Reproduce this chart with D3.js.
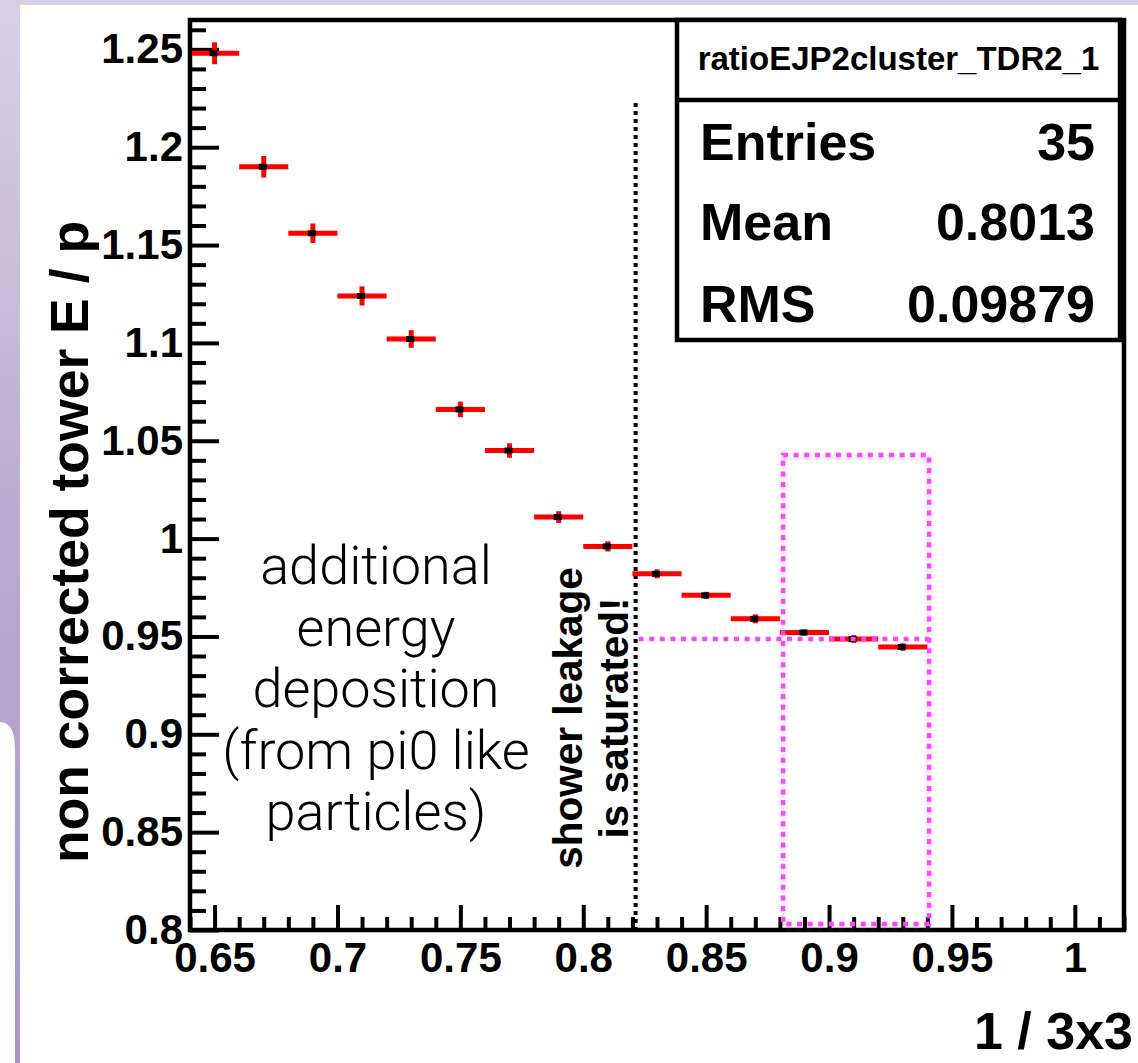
<!DOCTYPE html>
<html>
<head>
<meta charset="utf-8">
<script src="https://cdn.jsdelivr.net/npm/d3@7"></script>
<style>
  html, body { margin: 0; padding: 0; background: #ffffff; }
  svg { display: block; }
  .bold { font-family: "Liberation Sans", Arial, Helvetica, sans-serif; font-weight: bold; }
  .light { font-family: "Helvetica Neue", Roboto, "Open Sans", sans-serif; font-weight: 300; }
</style>
</head>
<body>
<svg id="chart" width="1138" height="1063"></svg>
<script>
// Histogram ratioEJP2cluster_TDR2_1: E/p versus 1/3x3, 0.02-wide bins
const binCenters = [0.65, 0.67, 0.69, 0.71, 0.73, 0.75, 0.77, 0.79, 0.81, 0.83, 0.85, 0.87, 0.89, 0.91, 0.93];
const ratioValues = [1.248, 1.190, 1.156, 1.124, 1.102, 1.066, 1.045, 1.011, 0.996, 0.982, 0.971, 0.959, 0.952, 0.9487, 0.9446];
const ratioErrors = [0.0056, 0.0055, 0.0050, 0.0049, 0.0045, 0.0040, 0.0037, 0.0030, 0.0026, 0.0023, 0.0018, 0.0023, 0.0015, 0.0020, 0.0019];
const binWidth = 0.02;

// Axis ticks and labels
const xMajorTicks = [0.65, 0.7, 0.75, 0.8, 0.85, 0.9, 0.95, 1.0];
const xTickLabels = ["0.65", "0.7", "0.75", "0.8", "0.85", "0.9", "0.95", "1"];
const yMajorTicks = [0.8, 0.85, 0.9, 0.95, 1.0, 1.05, 1.1, 1.15, 1.2, 1.25];
const yTickLabels = ["0.8", "0.85", "0.9", "0.95", "1", "1.05", "1.1", "1.15", "1.2", "1.25"];

// Statistics box
const statsTitle = "ratioEJP2cluster_TDR2_1";
const statsNames = ["Entries", "Mean", "RMS"];
const statsValues = ["35", "0.8013", "0.09879"];

// Annotations
const leftNoteLines = ["additional", "energy", "deposition", "(from pi0 like", "particles)"];
const saturationLines = ["shower leakage", "is saturated!"];
const saturationX = 0.8213;
const saturationTop = 1.2226;
const plateauLevel = 0.9487;
const boxX = [0.8813, 0.9407];
const boxY = [0.8031, 1.0427];

const W = 1138, H = 1063;
const frame = { left: 190, right: 1124, top: 20, bottom: 930 };

const svg = d3.select("#chart");
const defs = svg.append("defs");

// slide background decorations
const grad = defs.append("linearGradient").attr("id", "sideGrad")
  .attr("x1", 0).attr("y1", 0).attr("x2", 0).attr("y2", 1);
grad.append("stop").attr("offset", "0%").attr("stop-color", "#d8d1e5");
grad.append("stop").attr("offset", "50%").attr("stop-color", "#b9abd2");
grad.append("stop").attr("offset", "100%").attr("stop-color", "#a996c6");

const shadow = defs.append("filter").attr("id", "softShadow")
  .attr("x", "-20%").attr("y", "-5%").attr("width", "140%").attr("height", "110%");
shadow.append("feDropShadow").attr("dx", 0).attr("dy", 2).attr("stdDeviation", 2.5)
  .attr("flood-color", "#777").attr("flood-opacity", 0.45);

svg.append("rect").attr("x", 0).attr("y", 0).attr("width", W).attr("height", H).attr("fill", "#ffffff");
svg.append("rect").attr("x", 0).attr("y", 0).attr("width", W).attr("height", 5).attr("fill", "#d9d2e6");
svg.append("rect").attr("x", 0).attr("y", 0).attr("width", 20).attr("height", H).attr("fill", "url(#sideGrad)");
svg.append("path")
  .attr("d", `M0,${H} L0,722 Q15,722 15,750 L15,${H} Z`)
  .attr("fill", "#fdfdfe");

// scales
const x = d3.scaleLinear().domain([0.64, 1.02]).range([frame.left, frame.right]);
const y = d3.scaleLinear().domain([0.8, 1.265]).range([frame.bottom, frame.top]);

const plot = svg.append("g");

// minor ticks (0.01 steps)
const xMinor = d3.range(64, 103).map(d => d / 100).filter(v => !xMajorTicks.some(m => Math.abs(m - v) < 1e-6));
const yMinor = d3.range(80, 127).map(d => d / 100).filter(v => !yMajorTicks.some(m => Math.abs(m - v) < 1e-6));

function styleAxis(g) {
  g.select(".domain").remove();
  g.selectAll(".tick line").attr("stroke", "#000").attr("stroke-width", 4);
}

plot.append("g").attr("transform", `translate(0,${frame.bottom})`)
  .call(d3.axisBottom(x).tickValues(xMinor).tickSize(-13).tickFormat(""))
  .call(styleAxis);
plot.append("g").attr("transform", `translate(0,${frame.bottom})`)
  .call(d3.axisBottom(x).tickValues(xMajorTicks).tickSize(-25).tickPadding(12)
    .tickFormat((d, i) => xTickLabels[i]))
  .call(styleAxis)
  .call(g => g.selectAll("text").attr("class", "bold").attr("font-size", 42).attr("fill", "#000"));

plot.append("g").attr("transform", `translate(${frame.left},0)`)
  .call(d3.axisLeft(y).tickValues(yMinor).tickSize(-16).tickFormat(""))
  .call(styleAxis);
plot.append("g").attr("transform", `translate(${frame.left},0)`)
  .call(d3.axisLeft(y).tickValues(yMajorTicks).tickSize(-29).tickPadding(7)
    .tickFormat((d, i) => yTickLabels[i]))
  .call(styleAxis)
  .call(g => g.selectAll("text").attr("class", "bold").attr("font-size", 42).attr("fill", "#000"));

// frame
plot.append("rect")
  .attr("x", frame.left).attr("y", frame.top)
  .attr("width", frame.right - frame.left).attr("height", frame.bottom - frame.top)
  .attr("fill", "none").attr("stroke", "#000").attr("stroke-width", 4.5);

// axis titles
svg.append("text").attr("class", "bold")
  .attr("transform", `translate(88,542) rotate(-90)`)
  .attr("text-anchor", "middle").attr("font-size", 53.5).attr("fill", "#000")
  .text("non corrected tower E / p");
svg.append("text").attr("class", "bold")
  .attr("x", 1133).attr("y", 1049)
  .attr("text-anchor", "end").attr("font-size", 52).attr("fill", "#000")
  .text("1 / 3x3");

// annotation: left explanatory note
svg.append("g").selectAll("text").data(leftNoteLines).join("text")
  .attr("class", "light")
  .attr("x", 376).attr("y", (d, i) => 584 + i * 61.5)
  .attr("text-anchor", "middle").attr("font-size", 54).attr("fill", "#000")
  .text(d => d);

// annotation: saturation marker
svg.append("line")
  .attr("x1", x(saturationX)).attr("x2", x(saturationX))
  .attr("y1", y(saturationTop)).attr("y2", frame.bottom - 2)
  .attr("stroke", "#000").attr("stroke-width", 4).attr("stroke-dasharray", "4 4");
svg.append("g").selectAll("text").data(saturationLines).join("text")
  .attr("class", "bold")
  .attr("transform", (d, i) => `translate(${582 + i * 46},718) rotate(-90)`)
  .attr("text-anchor", "middle").attr("font-size", 40.5).attr("fill", "#000")
  .text(d => d);

// data: horizontal bin-width bars, vertical error bars, markers
const pts = binCenters.map((c, i) => ({ c, v: ratioValues[i], e: ratioErrors[i] }));
const data = svg.append("g");
data.selectAll("line.h").data(pts).join("line").attr("class", "h")
  .attr("x1", d => Math.max(x(d.c - binWidth / 2), frame.left + 2))
  .attr("x2", d => x(d.c + binWidth / 2))
  .attr("y1", d => y(d.v)).attr("y2", d => y(d.v))
  .attr("stroke", "#ff0000").attr("stroke-width", 5);
data.selectAll("line.v").data(pts).join("line").attr("class", "v")
  .attr("x1", d => x(d.c)).attr("x2", d => x(d.c))
  .attr("y1", d => y(d.v + d.e)).attr("y2", d => y(d.v - d.e))
  .attr("stroke", "#ff0000").attr("stroke-width", 5);
data.selectAll("rect.m").data(pts).join("rect").attr("class", "m")
  .attr("x", d => x(d.c) - 5).attr("y", d => y(d.v) - 3)
  .attr("width", 8).attr("height", 6).attr("fill", "#000");

// annotation: plateau level and highlighted bins
svg.append("line")
  .attr("x1", x(saturationX) + 3).attr("x2", x(boxX[1]))
  .attr("y1", y(plateauLevel)).attr("y2", y(plateauLevel))
  .attr("stroke", "#ff44ff").attr("stroke-width", 4.5).attr("stroke-dasharray", "5 5.6");
svg.append("rect")
  .attr("x", x(boxX[0])).attr("y", y(boxY[1]))
  .attr("width", x(boxX[1]) - x(boxX[0])).attr("height", y(boxY[0]) - y(boxY[1]))
  .attr("fill", "none").attr("stroke", "#ff44ff").attr("stroke-width", 4.5)
  .attr("stroke-dasharray", "5 5.6").attr("filter", "url(#softShadow)");

// statistics box
const sb = { left: 677, right: 1120, top: 20, sep: 100, bottom: 340 };
const stats = svg.append("g");
stats.append("rect")
  .attr("x", sb.left).attr("y", sb.top).attr("width", sb.right - sb.left).attr("height", sb.bottom - sb.top)
  .attr("fill", "#fff").attr("stroke", "#000").attr("stroke-width", 4.5);
stats.append("line").attr("x1", sb.left).attr("x2", sb.right).attr("y1", sb.sep).attr("y2", sb.sep)
  .attr("stroke", "#000").attr("stroke-width", 4.5);
stats.append("text").attr("class", "bold")
  .attr("x", (sb.left + sb.right) / 2).attr("y", 70)
  .attr("text-anchor", "middle").attr("font-size", 33).attr("fill", "#000")
  .text(statsTitle);
const rowY = [160, 240, 322];
stats.selectAll("text.n").data(statsNames).join("text").attr("class", "bold n")
  .attr("x", 700).attr("y", (d, i) => rowY[i]).attr("font-size", 52).attr("fill", "#000")
  .text(d => d);
stats.selectAll("text.v").data(statsValues).join("text").attr("class", "bold v")
  .attr("x", 1095).attr("y", (d, i) => rowY[i]).attr("text-anchor", "end")
  .attr("font-size", 52).attr("fill", "#000")
  .text(d => d);
</script>
</body>
</html>
